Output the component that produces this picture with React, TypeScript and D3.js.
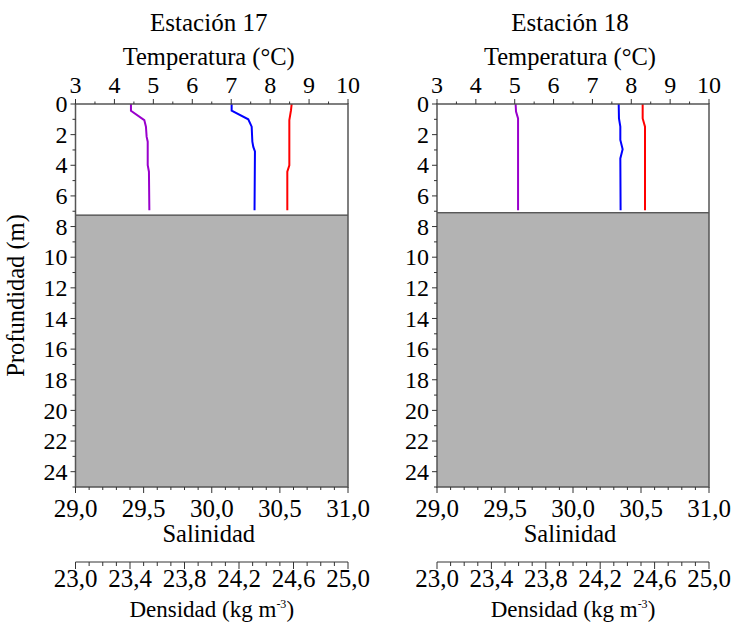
import React from "react";
import * as d3 from "d3";

const stations = ["Estación 17", "Estación 18"];

// Station 17 profiles: [depth (m), value]
const temp17: [number, number][] = [[0, 8.553], [0.4, 8.536], [1.05, 8.493], [4.0, 8.493], [4.42, 8.441], [6.93, 8.441]];
const sal17: [number, number][] = [[0, 30.146], [0.44, 30.146], [1.0, 30.268], [1.48, 30.293], [2.46, 30.298], [2.8, 30.305], [3.1, 30.317], [6.93, 30.314]];
const dens17: [number, number][] = [[0, 23.407], [0.44, 23.407], [1.05, 23.505], [1.48, 23.517], [2.13, 23.522], [2.46, 23.53], [3.99, 23.53], [4.42, 23.539], [6.93, 23.542]];
const bottom17 = 7.25;

// Station 18 profiles
const temp18: [number, number][] = [[0, 8.293], [0.94, 8.293], [1.48, 8.353], [6.93, 8.353]];
const sal18: [number, number][] = [[0, 30.336], [0.94, 30.338], [1.48, 30.348], [2.35, 30.348], [2.96, 30.365], [3.55, 30.348], [6.93, 30.35]];
const dens18: [number, number][] = [[0, 23.578], [0.5, 23.581], [0.94, 23.596], [6.93, 23.596]];
const bottom18 = 7.1;

const tempTicks = [3, 4, 5, 6, 7, 8, 9, 10];
const salTicks = [29.0, 29.5, 30.0, 30.5, 31.0];
const densTicks = [23.0, 23.4, 23.8, 24.2, 24.6, 25.0];
const depthTicks = [0, 2, 4, 6, 8, 10, 12, 14, 16, 18, 20, 22, 24];

const FONT = "Liberation Serif, DejaVu Serif, serif";
const AX = "#333";

const comma = (v: number) => d3.format(".1f")(v).replace(".", ",");

const T = (props: any) => {
  const { size, children, style, ...rest } = props;
  return (
    <text {...rest} style={{ fontFamily: FONT, fontSize: size + "px", ...(style || {}) }}>
      {children}
    </text>
  );
};

function Panel({ x0, x1, title, temp, sal, dens, bottom, showYLabel }: any) {
  const top = 104;
  const bot = 487;
  const y = d3.scaleLinear().domain([0, 25]).range([top, bot]);
  const xT = d3.scaleLinear().domain([3, 10]).range([x0, x1]);
  const xS = d3.scaleLinear().domain([29, 31]).range([x0, x1]);
  const xD = d3.scaleLinear().domain([23, 25]).range([x0, x1]);
  const cx = (x0 + x1) / 2;
  const densY = 562;

  const line = (xs: d3.ScaleLinear<number, number>) =>
    d3.line<[number, number]>().x((d) => xs(d[1])).y((d) => y(d[0]));

  const tMinor = d3.range(3, 10.001, 0.5);
  const sMinor = d3.range(0, 21).map((i) => 29 + i * 0.1);
  const dMinor = d3.range(0, 21).map((i) => 23 + i * 0.1);
  const depthMinor = d3.range(0, 26, 1);

  return (
    <g>
      <T x={cx - 3} y={31} textAnchor="middle" size={25}>{title}</T>
      <T x={cx - 3} y={65} textAnchor="middle" size={24.5}>Temperatura (°C)</T>

      <rect x={x0} y={y(bottom)} width={x1 - x0} height={bot - y(bottom)} fill="#b3b3b3" stroke="none" />
      <line x1={x0} x2={x1} y1={y(bottom)} y2={y(bottom)} stroke="#222" strokeWidth={1} />

      <path d={line(xT)(temp) || ""} fill="none" stroke="#ff0000" strokeWidth={2} />
      <path d={line(xS)(sal) || ""} fill="none" stroke="#0000ff" strokeWidth={2} />
      <path d={line(xD)(dens) || ""} fill="none" stroke="#9900cc" strokeWidth={2} />

      {/* frame */}
      <rect x={x0} y={top} width={x1 - x0} height={bot - top} fill="none" stroke="#555" strokeWidth={1.5} />

      {/* top temperature axis */}
      {tMinor.map((v) => {
        const major = Math.abs(v - Math.round(v)) < 1e-6;
        return <line key={"tt" + v} x1={xT(v)} x2={xT(v)} y1={top} y2={top - (major ? 5 : 2.5)} stroke={AX} strokeWidth={1} />;
      })}
      {tempTicks.map((v) => (
        <T key={"tl" + v} x={xT(v)} y={93} textAnchor="middle" size={24}>{v}</T>
      ))}

      {/* left depth axis */}
      {depthMinor.map((v) => {
        const major = v % 2 === 0;
        return <line key={"dt" + v} x1={x0} x2={x0 - (major ? 5 : 3)} y1={y(v)} y2={y(v)} stroke={AX} strokeWidth={1} />;
      })}
      {depthTicks.map((v) => (
        <T key={"dl" + v} x={x0 - 8} y={y(v)} dy="0.34em" textAnchor="end" size={24}>{v}</T>
      ))}
      {showYLabel && (
        <T transform={`translate(${x0 - 52},${(top + bot) / 2}) rotate(-90)`} textAnchor="middle" size={24.5}>Profundidad (m)</T>
      )}

      {/* bottom salinity axis */}
      {sMinor.map((v, i) => {
        const major = i % 5 === 0;
        return <line key={"st" + i} x1={xS(v)} x2={xS(v)} y1={bot} y2={bot + (major ? 6 : 3)} stroke={AX} strokeWidth={1} />;
      })}
      {salTicks.map((v) => (
        <T key={"sl" + v} x={xS(v)} y={517} textAnchor="middle" size={25}>{comma(v)}</T>
      ))}
      <T x={cx - 3} y={542} textAnchor="middle" size={24.5}>Salinidad</T>

      {/* density axis */}
      <line x1={x0} x2={x1} y1={densY} y2={densY} stroke={AX} strokeWidth={1} />
      {dMinor.map((v, i) => {
        const major = i % 4 === 0;
        return <line key={"ddt" + i} x1={xD(v)} x2={xD(v)} y1={densY} y2={densY + (major ? 7 : 4)} stroke={AX} strokeWidth={1} />;
      })}
      {densTicks.map((v) => (
        <T key={"ddl" + v} x={xD(v)} y={587} textAnchor="middle" size={25}>{comma(v)}</T>
      ))}
      <T x={cx} y={617} textAnchor="middle" size={23}>
        Densidad (kg m<tspan dy={-9} style={{ fontSize: "12px" }}>-3</tspan><tspan dy={9}>)</tspan>
      </T>
    </g>
  );
}

export default function App() {
  return (
    <svg width={736} height={626} style={{ position: "absolute", left: 0, top: 0, background: "#fff" }}>
      <rect width={736} height={626} fill="#fff" />
      <Panel x0={75.5} x1={348} title={stations[0]} temp={temp17} sal={sal17} dens={dens17} bottom={bottom17} showYLabel />
      <Panel x0={437} x1={709} title={stations[1]} temp={temp18} sal={sal18} dens={dens18} bottom={bottom18} showYLabel={false} />
    </svg>
  );
}
